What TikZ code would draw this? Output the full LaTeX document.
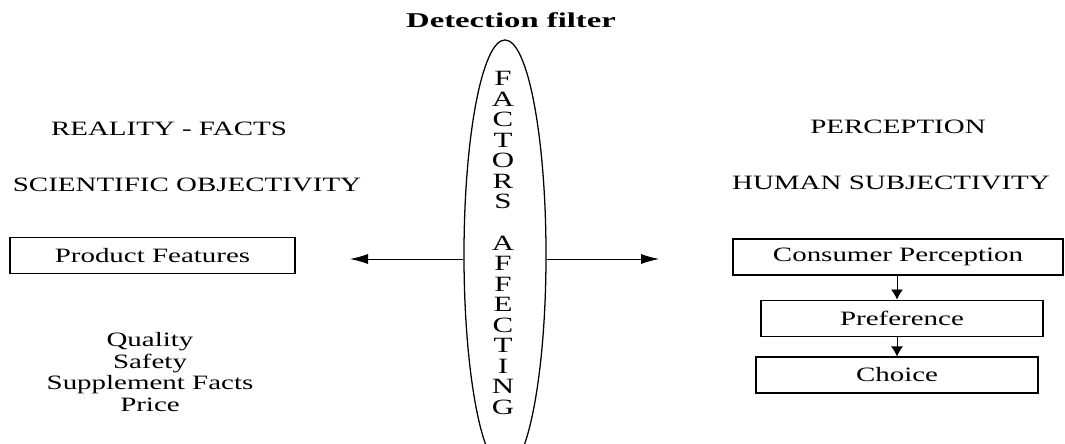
\documentclass[tikz,border=0pt]{standalone}
\usepackage{fontspec}
\setmainfont{Liberation Serif}
\usepackage{graphicx}
\usetikzlibrary{shapes.geometric,arrows.meta}

\newcommand{\wide}[1]{\scalebox{1.42}[1]{#1}}

\begin{document}
\begin{tikzpicture}[x=0.025cm, y=-0.025cm,
    every node/.style={font=\fontsize{14.5}{15.6}\selectfont, inner sep=0pt},
    box/.style={draw, line width=0.8pt, minimum height=0.92cm},
    harrow/.style={-{Latex[length=0.45cm,width=0.25cm]}, line width=0.6pt},
    varrow/.style={-{Latex[length=0.25cm,width=0.3cm]}, line width=0.6pt}]

\clip (0,0) rectangle (1065,443);

% filter
\node (title) at (511,20) {\scalebox{1.55}[1]{\fontsize{15}{16}\selectfont\bfseries Detection filter}};
\node[ellipse, draw, line width=0.9pt, minimum width=2.05cm, minimum height=10.75cm]
    (filter) at (505,255) {};
\node[align=center, font=\fontsize{15.5}{14.6}\selectfont] (factors) at (503,243)
    {\wide{F}\\\wide{A}\\\wide{C}\\\wide{T}\\\wide{O}\\\wide{R}\\\wide{S}\\\mbox{}\\
     \wide{A}\\\wide{F}\\\wide{F}\\\wide{E}\\\wide{C}\\\wide{T}\\\wide{I}\\\wide{N}\\\wide{G}};

% reality side
\node (real)  at (169,129) {\wide{REALITY - FACTS}};
\node (sci)   at (187,185) {\wide{SCIENTIFIC OBJECTIVITY}};
\node[box, minimum width=7.125cm] (pf) at (152.5,255.5) {\wide{Product Features}};
\node[align=center] (list) at (150,372)
    {\wide{Quality}\\\wide{Safety}\\\wide{Supplement Facts}\\\wide{Price}};

% perception side
\node (perc)  at (898,127) {\wide{PERCEPTION}};
\node (hum)   at (891,183) {\wide{HUMAN SUBJECTIVITY}};
\node[box, minimum width=8.25cm, minimum height=0.9cm] (cp) at (898,257) {\wide{Consumer Perception}};
\node[box, minimum width=7.05cm]  (pref) at (902,318.5) {\wide{Preference}};
\node[box, minimum width=7.05cm, minimum height=0.9cm] (ch) at (897,375) {\wide{Choice}};

% arrows
\coordinate (lend) at (350,259);
\coordinate (rend) at (659,259);
\draw[harrow] (filter.west |- lend) -- (lend);
\draw[harrow] (filter.east |- rend) -- (rend);
\draw[varrow] (cp.south -| ch.north) -- (pref.north -| ch.north);
\draw[varrow] (pref.south -| ch.north) -- (ch.north);

\end{tikzpicture}
\end{document}
